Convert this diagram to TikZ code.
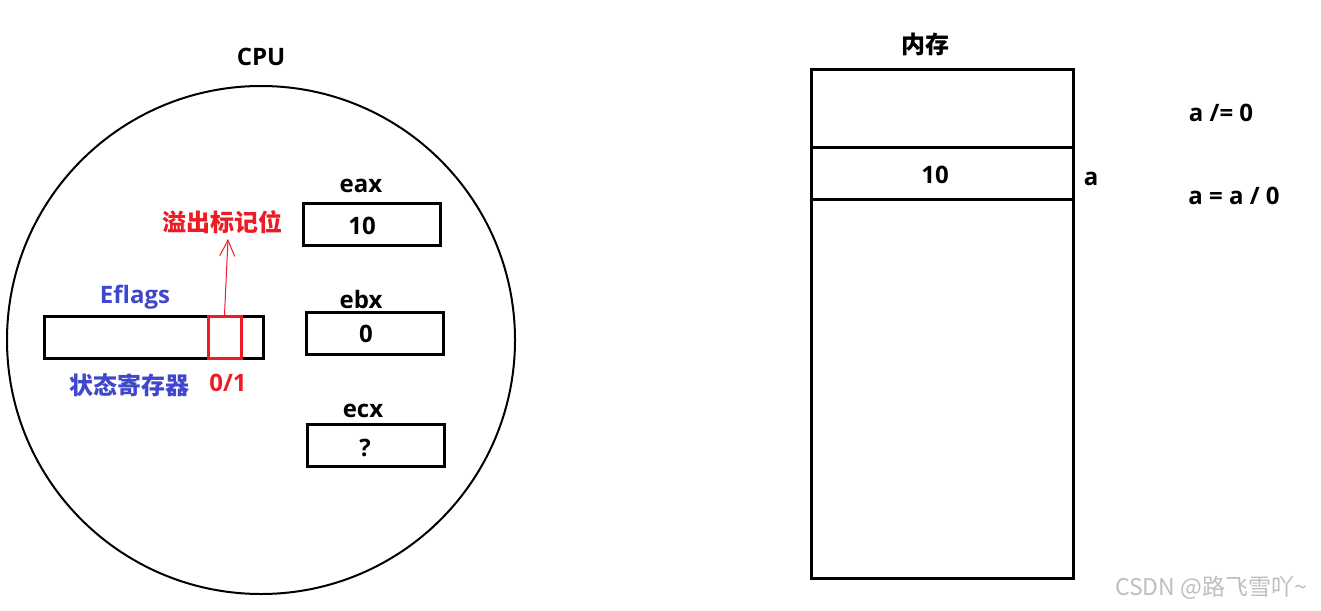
\documentclass[tikz,border=0pt]{standalone}
\usepackage{fontspec}
\setmainfont{Open Sans}
\newfontfamily\cjk{Noto Sans CJK SC}
\usetikzlibrary{arrows.meta}
\definecolor{pred}{RGB}{237,28,36}
\definecolor{pblue}{RGB}{63,72,204}
\definecolor{wmgray}{RGB}{190,190,190}
\tikzset{
  lbl/.style={font=\fontsize{24}{28}\selectfont\bfseries, inner sep=0pt},
  clbl/.style={font=\cjk\fontsize{24}{28}\selectfont\bfseries, inner sep=0pt},
  reg/.style={draw=black, line width=3pt, inner sep=0pt, minimum width=137pt, minimum height=42pt},
  memcell/.style={draw=black, line width=3pt, inner sep=0pt, minimum width=262pt},
}
\begin{document}
\begin{tikzpicture}[x=1pt,y=-1pt]
\useasboundingbox (0,0) rectangle (1321,610);
% CPU
\node[lbl] (cpulbl) at (261,57) {CPU};
\node[draw=black, line width=2pt, circle, minimum size=508pt, inner sep=0pt] (cpu) at (261,340) {};
% registers
\node[lbl] (eaxlbl) at (361,186) {eax};
\node[reg] (eax) at (371.5,224) {};
\node[lbl] (eaxval) at (362,226) {10};
\node[lbl] (ebxlbl) at (361,299) {ebx};
\node[reg] (ebx) at (374.5,333) {};
\node[lbl] (ebxval) at (366,334) {0};
\node[lbl] (ecxlbl) at (363,411) {ecx};
\node[reg] (ecx) at (376,445.5) {};
\node[lbl] (ecxval) at (365,448) {?};
% Eflags
\node[lbl, text=pblue] (eflagslbl) at (135,297) {Eflags};
\node[draw=black, line width=3pt, inner sep=0pt, minimum width=219pt, minimum height=42pt] (eflags) at (153.5,337.5) {};
\node[draw=pred, line width=3pt, inner sep=0pt, minimum width=33pt, minimum height=42pt] (flag) at (224.5,337.5) {};
\node[clbl, text=pblue] (statelbl) at (129,385) {状态寄存器};
\node[lbl, text=pred] (bitlbl) at (228,383) {0/1};
\node[clbl, text=pred] (ovflbl) at (222,222) {溢出标记位};
\coordinate (tip) at (228,239);
\draw[pred, line width=1pt, -{Straight Barb[length=16pt,width=15pt,line width=1pt]}] (flag.north) -- (tip);
% memory
\node[clbl] (memlbl) at (925,44) {内存};
\node[memcell, minimum height=78pt] (m1) at (942,108) {};
\node[memcell, minimum height=52pt] (m2) at (942,173) {};
\node[lbl] (m2val) at (935,175) {10};
\node[memcell, minimum height=379pt] (m3) at (942,388.5) {};
\node[lbl] (alabel) at (1091,179) {a};
\node[lbl] (op1) at (1221,113) {a /= 0};
\node[lbl] (op2) at (1234,196) {a = a / 0};
% watermark
\node[font=\cjk\fontsize{23}{26}\selectfont, text=wmgray, inner sep=0pt] (wm) at (1211,588) {CSDN @路飞雪吖\textasciitilde};
\end{tikzpicture}
\end{document}
